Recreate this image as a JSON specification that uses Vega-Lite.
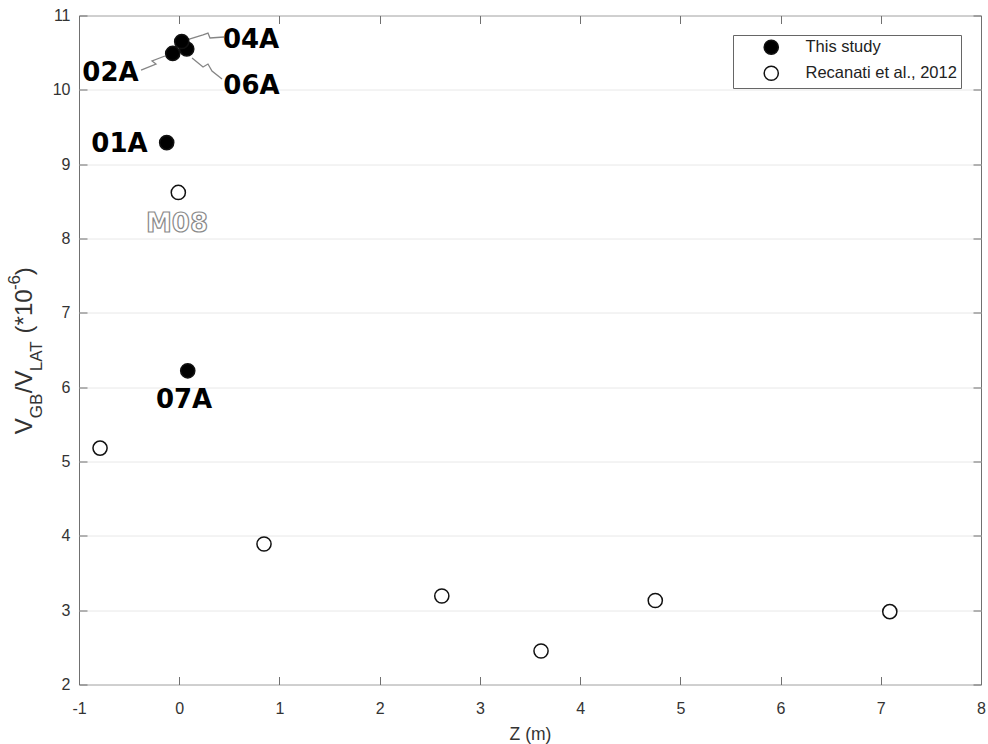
{
  "$schema": "https://vega.github.io/schema/vega-lite/v6.json",
  "width": 902,
  "height": 669,
  "autosize": {"type": "none"},
  "padding": {"left": 79, "top": 15.5, "right": 7, "bottom": 59.5},
  "background": "white",
  "config": {"view": {"stroke": "#707070", "strokeWidth": 1}, "font": "Liberation Sans"},
  "datasets": {
    "points": [
      {"id": "02A", "series": "This study", "z": -0.065, "v": 10.49},
      {"id": "06A", "series": "This study", "z": 0.075, "v": 10.55},
      {"id": "04A", "series": "This study", "z": 0.025, "v": 10.65},
      {"id": "01A", "series": "This study", "z": -0.125, "v": 9.29},
      {"id": "07A", "series": "This study", "z": 0.085, "v": 6.22},
      {"id": "M08", "series": "Recanati et al., 2012", "z": -0.009, "v": 8.62},
      {"id": "R1", "series": "Recanati et al., 2012", "z": -0.79, "v": 5.18},
      {"id": "R2", "series": "Recanati et al., 2012", "z": 0.846, "v": 3.89},
      {"id": "R3", "series": "Recanati et al., 2012", "z": 2.62, "v": 3.19},
      {"id": "R4", "series": "Recanati et al., 2012", "z": 3.61, "v": 2.45},
      {"id": "R5", "series": "Recanati et al., 2012", "z": 4.75, "v": 3.13},
      {"id": "R6", "series": "Recanati et al., 2012", "z": 7.09, "v": 2.98}
    ],
    "labels": [
      {"id": "04A", "kind": "study", "z": 0.717, "v": 10.563},
      {"id": "02A", "kind": "study", "z": -0.686, "v": 10.118},
      {"id": "06A", "kind": "study", "z": 0.721, "v": 9.943},
      {"id": "01A", "kind": "study", "z": -0.596, "v": 9.163},
      {"id": "07A", "kind": "study", "z": 0.048, "v": 5.717},
      {"id": "M08", "kind": "ref", "z": -0.022, "v": 8.086}
    ],
    "leaders": [
      {"grp": "04A", "ord": 1, "z": 0.068, "v": 10.67},
      {"grp": "04A", "ord": 2, "z": 0.2375, "v": 10.738},
      {"grp": "04A", "ord": 3, "z": 0.287, "v": 10.764},
      {"grp": "04A", "ord": 4, "z": 0.307, "v": 10.697},
      {"grp": "04A", "ord": 5, "z": 0.447, "v": 10.711},
      {"grp": "02A", "ord": 1, "z": -0.142, "v": 10.455},
      {"grp": "02A", "ord": 2, "z": -0.271, "v": 10.388},
      {"grp": "02A", "ord": 3, "z": -0.232, "v": 10.347},
      {"grp": "02A", "ord": 4, "z": -0.381, "v": 10.266},
      {"grp": "06A", "ord": 1, "z": 0.128, "v": 10.428},
      {"grp": "06A", "ord": 2, "z": 0.2375, "v": 10.307},
      {"grp": "06A", "ord": 3, "z": 0.287, "v": 10.347},
      {"grp": "06A", "ord": 4, "z": 0.327, "v": 10.253},
      {"grp": "06A", "ord": 5, "z": 0.427, "v": 10.145}
    ]
  },
  "resolve": {"axis": {"x": "independent", "y": "independent"}},
  "layer": [
    {
      "data": {"name": "leaders"},
      "mark": {"type": "line", "color": "#858585", "strokeWidth": 1.3},
      "encoding": {
        "x": {"field": "z", "type": "quantitative", "axis": null, "scale": {"domain": [-1, 8], "nice": false, "zero": false}},
        "y": {"field": "v", "type": "quantitative", "axis": null, "scale": {"domain": [2, 11], "nice": false, "zero": false}},
        "detail": {"field": "grp"},
        "order": {"field": "ord"}
      }
    },
    {
      "data": {"name": "points"},
      "mark": {"type": "point", "filled": true, "size": 200, "stroke": "#111111", "strokeWidth": 1.5, "opacity": 1},
      "encoding": {
        "x": {"field": "z", "type": "quantitative", "axis": {"orient": "bottom", "values": [-1, 0, 1, 2, 3, 4, 5, 6, 7, 8], "labelExpr": "replace(datum.label, '−', '-')", "grid": false, "domain": false, "tickSize": -8, "tickColor": "#707070", "tickWidth": 1, "labelFontSize": 16, "labelColor": "#333333", "labelFont": "Liberation Sans", "labelPadding": 23.5, "labelFlush": false, "labelOverlap": false, "title": "Z (m)", "titleFontSize": 17.5, "titleFontWeight": "normal", "titleColor": "#333333", "titleFont": "Liberation Sans", "titlePadding": 9}},
        "y": {"field": "v", "type": "quantitative", "axis": {"orient": "left", "values": [2, 3, 4, 5, 6, 7, 8, 9, 10, 11], "grid": true, "gridColor": "#e8e8e8", "gridWidth": 1, "domain": false, "tickSize": -8, "tickColor": "#707070", "tickWidth": 1, "labelFontSize": 16, "labelColor": "#333333", "labelFont": "Liberation Sans", "labelPadding": 17, "labelFlush": false, "labelOverlap": false, "title": null}},
        "fill": {"field": "series", "type": "nominal", "scale": {"domain": ["This study", "Recanati et al., 2012"], "range": ["#000000", "#ffffff"]},
          "legend": {"title": null, "orient": "none", "legendX": 654, "legendY": 19.5, "direction": "vertical", "fillColor": "white", "strokeColor": "#666666", "padding": 4, "rowPadding": 5, "symbolType": "circle", "symbolSize": 200, "symbolStrokeColor": "#111111", "symbolStrokeWidth": 1.5, "symbolOffset": 26, "labelOffset": 26, "labelFontSize": 16.5, "labelFont": "Liberation Sans", "labelColor": "#222222", "labelLimit": 300, "cornerRadius": 0}}
      }
    },
    {
      "data": {"name": "points"},
      "mark": {"type": "point", "opacity": 0},
      "encoding": {
        "x": {"field": "z", "type": "quantitative", "axis": {"orient": "top", "values": [-1, 0, 1, 2, 3, 4, 5, 6, 7, 8], "labels": false, "grid": false, "domain": false, "tickSize": -8, "tickColor": "#707070", "title": null}},
        "y": {"field": "v", "type": "quantitative", "axis": {"orient": "right", "values": [2, 3, 4, 5, 6, 7, 8, 9, 10, 11], "labels": false, "grid": false, "domain": false, "tickSize": -8, "tickColor": "#707070", "title": null}}
      }
    },
    {
      "data": {"name": "labels"},
      "transform": [{"filter": "datum.kind === 'study'"}],
      "mark": {"type": "text", "font": "DejaVu Sans", "fontWeight": "bold", "fontSize": 26, "align": "center", "baseline": "alphabetic", "color": "#000000"},
      "encoding": {
        "x": {"field": "z", "type": "quantitative", "axis": null},
        "y": {"field": "v", "type": "quantitative", "axis": null},
        "text": {"field": "id"}
      }
    },
    {
      "data": {"name": "labels"},
      "transform": [{"filter": "datum.kind === 'ref'"}],
      "mark": {"type": "text", "font": "DejaVu Sans", "fontWeight": "bold", "fontSize": 26, "align": "center", "baseline": "alphabetic", "fill": "#ffffff", "stroke": "#8a8a8a", "strokeWidth": 1.2},
      "encoding": {
        "x": {"field": "z", "type": "quantitative", "axis": null},
        "y": {"field": "v", "type": "quantitative", "axis": null},
        "text": {"field": "id"}
      }
    },
    {
      "data": {"values": [{}]},
      "mark": {"type": "text", "text": "V", "angle": 270, "align": "left", "baseline": "alphabetic", "fontSize": 24, "font": "Liberation Sans", "color": "#333333"},
      "encoding": {"x": {"datum": -1.469, "axis": null}, "y": {"datum": 5.367, "axis": null}}
    },
    {
      "data": {"values": [{}]},
      "mark": {"type": "text", "text": "GB", "angle": 270, "align": "left", "baseline": "alphabetic", "fontSize": 17, "font": "Liberation Sans", "color": "#333333"},
      "encoding": {"x": {"datum": -1.369, "axis": null}, "y": {"datum": 5.583, "axis": null}}
    },
    {
      "data": {"values": [{}]},
      "mark": {"type": "text", "text": "/V", "angle": 270, "align": "left", "baseline": "alphabetic", "fontSize": 24, "font": "Liberation Sans", "color": "#333333"},
      "encoding": {"x": {"datum": -1.469, "axis": null}, "y": {"datum": 5.919, "axis": null}}
    },
    {
      "data": {"values": [{}]},
      "mark": {"type": "text", "text": "LAT", "angle": 270, "align": "left", "baseline": "alphabetic", "fontSize": 17, "font": "Liberation Sans", "color": "#333333"},
      "encoding": {"x": {"datum": -1.369, "axis": null}, "y": {"datum": 6.215, "axis": null}}
    },
    {
      "data": {"values": [{}]},
      "mark": {"type": "text", "text": "(*10", "angle": 270, "align": "left", "baseline": "alphabetic", "fontSize": 24, "font": "Liberation Sans", "color": "#333333"},
      "encoding": {"x": {"datum": -1.469, "axis": null}, "y": {"datum": 6.723, "axis": null}}
    },
    {
      "data": {"values": [{}]},
      "mark": {"type": "text", "text": "-6", "angle": 270, "align": "left", "baseline": "alphabetic", "fontSize": 17, "font": "Liberation Sans", "color": "#333333"},
      "encoding": {"x": {"datum": -1.589, "axis": null}, "y": {"datum": 7.306, "axis": null}}
    },
    {
      "data": {"values": [{}]},
      "mark": {"type": "text", "text": ")", "angle": 270, "align": "left", "baseline": "alphabetic", "fontSize": 24, "font": "Liberation Sans", "color": "#333333"},
      "encoding": {"x": {"datum": -1.469, "axis": null}, "y": {"datum": 7.507, "axis": null}}
    }
  ]
}
